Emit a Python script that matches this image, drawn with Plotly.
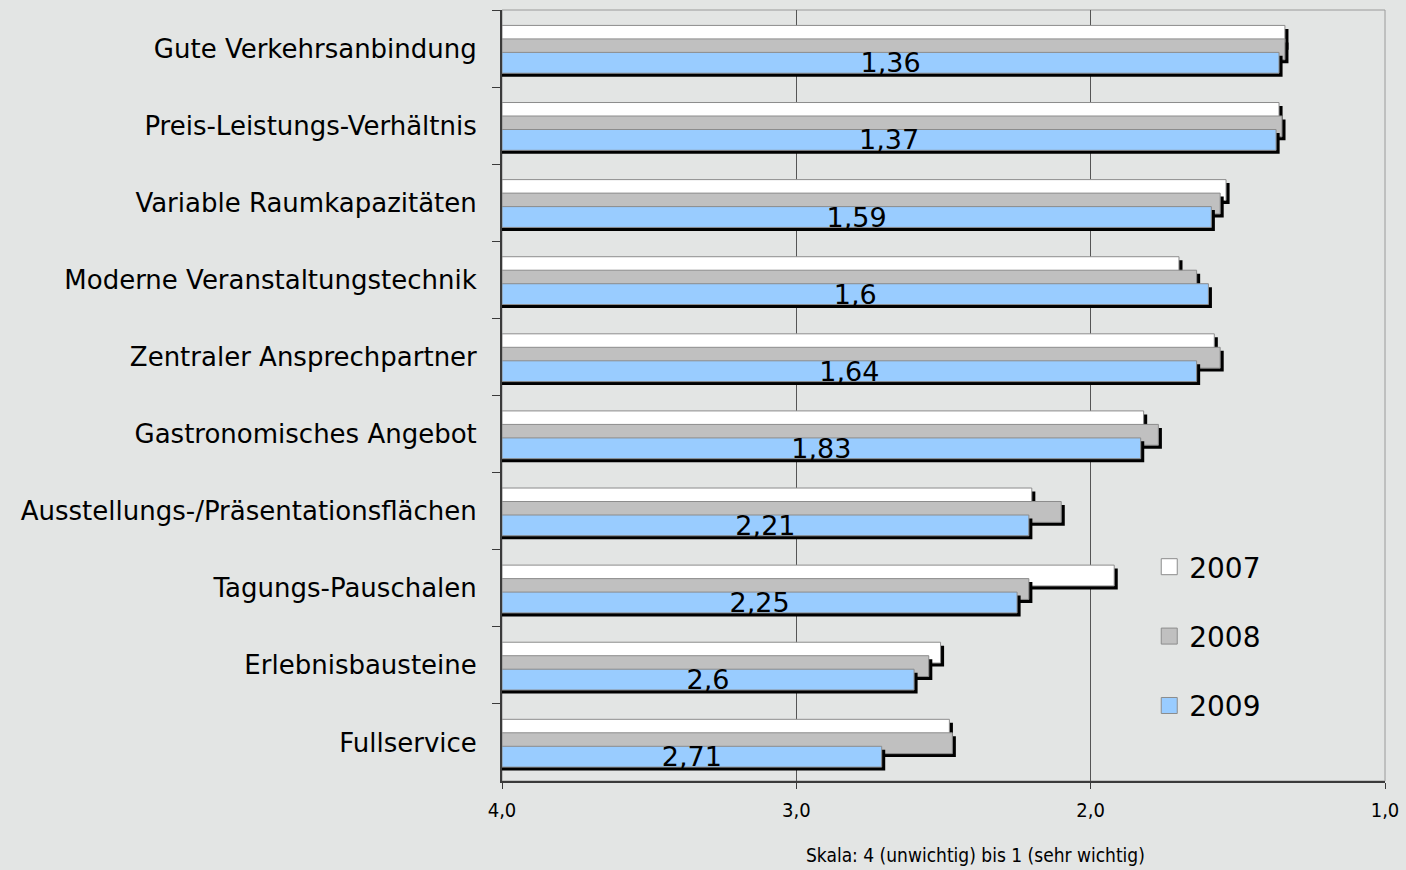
import plotly.graph_objects as go

categories = [
    "Gute Verkehrsanbindung",
    "Preis-Leistungs-Verhältnis",
    "Variable Raumkapazitäten",
    "Moderne Veranstaltungstechnik",
    "Zentraler Ansprechpartner",
    "Gastronomisches Angebot",
    "Ausstellungs-/Präsentationsflächen",
    "Tagungs-Pauschalen",
    "Erlebnisbausteine",
    "Fullservice",
]
values_2007 = [1.34, 1.36, 1.54, 1.70, 1.58, 1.82, 2.20, 1.92, 2.51, 2.48]
values_2008 = [1.34, 1.35, 1.56, 1.64, 1.56, 1.77, 2.10, 2.21, 2.55, 2.47]
values_2009 = [1.36, 1.37, 1.59, 1.60, 1.64, 1.83, 2.21, 2.25, 2.60, 2.71]
years = ["2007", "2008", "2009"]
x_ticks = [4, 3, 2, 1]
x_ticktext = ["4,0", "3,0", "2,0", "1,0"]
axis_note = "Skala: 4 (unwichtig) bis 1 (sehr wichtig)"

BASE = 4.0
colors = ["#ffffff", "#c0c0c0", "#99ccff"]
offsets = [-0.30, -0.125, 0.05]
bar_w = 0.27
shadow_dx = 0.012   # ~3.5 px in x data units
shadow_dy = 0.045   # ~3.5 px in category units
BG = "#e3e5e4"
NARROW = "Liberation Sans Narrow, DejaVu Sans Condensed, sans-serif"

fig = go.Figure()
series = [values_2007, values_2008, values_2009]
for i, (yr, vals) in enumerate(zip(years, series)):
    # shadow
    fig.add_trace(go.Bar(
        y=categories, x=[v - shadow_dx - BASE for v in vals], base=BASE,
        orientation="h", offset=offsets[i] + shadow_dy, width=bar_w,
        marker=dict(color="#000000", line=dict(width=0)),
        showlegend=False, hoverinfo="skip",
    ))
    is_last = (i == len(years) - 1)
    fig.add_trace(go.Bar(
        y=categories, x=[v - BASE for v in vals], base=BASE,
        orientation="h", offset=offsets[i], width=bar_w,
        marker=dict(color=colors[i], line=dict(color="#8c8c8c", width=1)),
        name=yr, showlegend=False,
        text=[f"{v:g}".replace(".", ",") for v in vals] if is_last else None,
        textposition="inside" if is_last else "none",
        insidetextanchor="middle",
        constraintext="none",
        textfont=dict(family="DejaVu Sans", size=27, color="#000000"),
        customdata=vals,
        hovertemplate="%{y}: %{customdata}<extra>" + yr + "</extra>",
    ))

# legend proxies
for i, yr in enumerate(years):
    fig.add_trace(go.Scatter(
        x=[None], y=[None], mode="markers", name=yr,
        legendgroup=yr,
        marker=dict(symbol="square", size=20, color=colors[i],
                    line=dict(color="#8c8c8c", width=1)),
    ))

fig.update_layout(
    width=1406, height=870,
    paper_bgcolor=BG, plot_bgcolor=BG,
    barmode="overlay",
    margin=dict(l=502, r=21, t=10, b=89, autoexpand=False),
    font=dict(family="DejaVu Sans", color="#000000"),
    showlegend=True,
    legend=dict(
        x=0.733, y=0.31, xanchor="left", yanchor="top",
        bgcolor="rgba(0,0,0,0)", font=dict(size=28, family="DejaVu Sans"),
        traceorder="grouped", tracegroupgap=30, itemsizing="trace",
    ),
    xaxis=dict(
        range=[4, 1], tickvals=x_ticks, ticktext=x_ticktext,
        showgrid=True, gridcolor="#555555", gridwidth=1,
        showline=True, linecolor="#3a3a3a", linewidth=2,
        ticks="outside", ticklen=6, tickcolor="#3a3a3a",
        tickfont=dict(family=NARROW, size=20),
        ticklabelstandoff=4, automargin=False,
        zeroline=False, fixedrange=True,
    ),
    yaxis=dict(
        type="category", range=[len(categories) - 0.5, -0.5],
        tickson="boundaries", ticks="outside", ticklen=8, tickcolor="#3a3a3a",
        showline=True, linecolor="#3a3a3a", linewidth=2,
        showgrid=False, tickfont=dict(family="DejaVu Sans", size=26),
        ticklabelstandoff=18, automargin=False, fixedrange=True,
    ),
    shapes=[dict(type="rect", xref="paper", yref="paper", x0=0, x1=1, y0=0, y1=1,
                 line=dict(color="#9a9a9a", width=1), layer="below")],
    annotations=[dict(
        text=axis_note, xref="paper", yref="paper", x=0.536, y=-0.096,
        xanchor="center", yanchor="middle", showarrow=False,
        font=dict(family=NARROW, size=19),
    )],
)

fig.write_html("out.html", config={"displayModeBar": False},
               post_script="document.body.style.margin='0';document.body.style.background='" + BG + "';")
